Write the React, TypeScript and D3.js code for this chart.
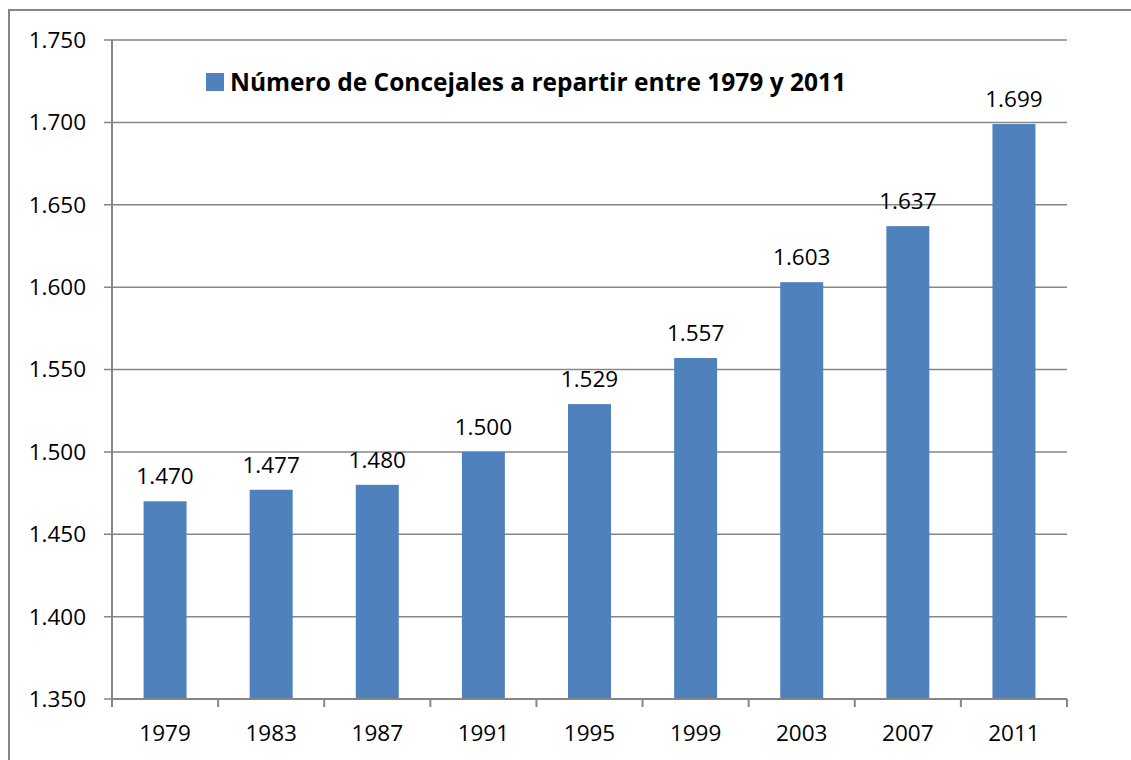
import React, { useEffect, useRef } from 'react';
import * as d3 from 'd3';

const years = ['1979', '1983', '1987', '1991', '1995', '1999', '2003', '2007', '2011'];
const concejales = [1470, 1477, 1480, 1500, 1529, 1557, 1603, 1637, 1699];
const yTicks = [1350, 1400, 1450, 1500, 1550, 1600, 1650, 1700, 1750];
const legendLabel = 'Número de Concejales a repartir entre 1979 y 2011';

const fmt = (v: number) => d3.format(',')(v).replace(',', '.');

const App: React.FC = () => {
  const svgRef = useRef<SVGSVGElement>(null);

  useEffect(() => {
    document.body.style.margin = '0';
    if (!svgRef.current) return;
    const svg = d3.select(svgRef.current);
    svg.selectAll('*').remove();

    const width = 1131;
    const height = 760;
    const left = 112, right = 1067, top = 40, bottom = 699;
    const font = '"Open Sans", "Liberation Sans", sans-serif';
    const labelSize = '22.5px';
    const barColor = '#4F81BD';
    const lineColor = '#868686';

    // outer frame (runs off the right and bottom edge)
    svg.append('rect')
      .attr('x', 9).attr('y', 10)
      .attr('width', 1140).attr('height', 780)
      .attr('fill', 'white')
      .attr('stroke', lineColor)
      .attr('stroke-width', 2);

    const x = d3.scaleBand<string>().domain(years).range([left, right]).paddingInner(0.595).paddingOuter(0.2975);
    const y = d3.scaleLinear().domain([1350, 1750]).range([bottom, top]);

    // gridlines + y ticks
    const g = svg.append('g');
    g.selectAll('.grid')
      .data(yTicks)
      .enter().append('line')
      .attr('x1', left - 8).attr('x2', right)
      .attr('y1', d => y(d)).attr('y2', d => y(d))
      .attr('stroke', lineColor)
      .attr('stroke-width', 1.5);

    g.selectAll('.ylab')
      .data(yTicks)
      .enter().append('text')
      .attr('x', 86)
      .attr('y', d => y(d))
      .attr('dy', '0.35em')
      .attr('text-anchor', 'end')
      .style('font-family', font)
      .style('font-size', labelSize)
      .attr('fill', '#000')
      .text(d => fmt(d));

    // bars
    g.selectAll('.bar')
      .data(concejales)
      .enter().append('rect')
      .attr('x', (_, i) => x(years[i]) as number)
      .attr('y', d => y(d))
      .attr('width', x.bandwidth())
      .attr('height', d => bottom - y(d))
      .attr('fill', barColor);

    // value labels
    g.selectAll('.vlab')
      .data(concejales)
      .enter().append('text')
      .attr('x', (_, i) => (x(years[i]) as number) + x.bandwidth() / 2)
      .attr('y', d => y(d) - 25)
      .attr('dy', '0.35em')
      .attr('text-anchor', 'middle')
      .style('font-family', font)
      .style('font-size', labelSize)
      .attr('fill', '#000')
      .text(d => fmt(d));

    // axes
    g.append('line')
      .attr('x1', left).attr('x2', left).attr('y1', top).attr('y2', bottom)
      .attr('stroke', lineColor).attr('stroke-width', 2);
    g.append('line')
      .attr('x1', left).attr('x2', right).attr('y1', bottom).attr('y2', bottom)
      .attr('stroke', lineColor).attr('stroke-width', 2);

    const step = (right - left) / years.length;
    g.selectAll('.xtick')
      .data(d3.range(years.length + 1))
      .enter().append('line')
      .attr('x1', i => left + i * step).attr('x2', i => left + i * step)
      .attr('y1', bottom).attr('y2', bottom + 8)
      .attr('stroke', lineColor).attr('stroke-width', 2);

    g.selectAll('.xlab')
      .data(years)
      .enter().append('text')
      .attr('x', d => (x(d) as number) + x.bandwidth() / 2)
      .attr('y', 733)
      .attr('dy', '0.35em')
      .attr('text-anchor', 'middle')
      .style('font-family', font)
      .style('font-size', labelSize)
      .attr('fill', '#000')
      .text(d => d);

    // legend
    svg.append('rect')
      .attr('x', 206).attr('y', 73)
      .attr('width', 18).attr('height', 18)
      .attr('fill', barColor);
    svg.append('text')
      .attr('x', 230).attr('y', 82)
      .attr('dy', '0.35em')
      .style('font-family', font)
      .style('font-size', '24.5px')
      .style('font-weight', 'bold')
      .attr('fill', '#000')
      .text(legendLabel);

    svg.attr('width', width).attr('height', height);
  }, []);

  return <svg ref={svgRef} width={1131} height={760} style={{ display: 'block' }} />;
};

export default App;
